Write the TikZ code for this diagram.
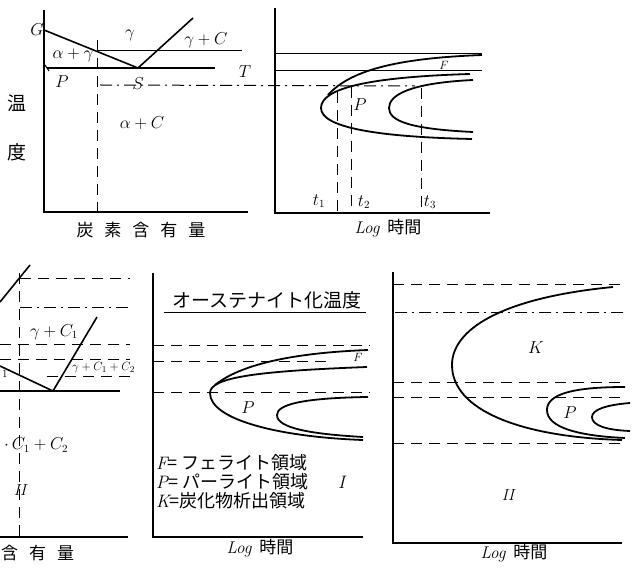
\documentclass[tikz,border=0pt]{standalone}
\usepackage{fontspec}
\newfontfamily\jpfont{Noto Sans CJK JP}
\newcommand{\chargap}{\hspace{11pt}}
\newcommand{\lat}[1]{{\normalfont\itshape #1}}

\begin{document}
\begin{tikzpicture}[x=1pt, y=-1pt,
  axis/.style={line width=1.6pt},
  curve/.style={line width=1.8pt},
  thin/.style={line width=1pt},
  guide/.style={line width=1pt, dash pattern=on 11pt off 7pt},
  chain/.style={line width=1pt, dash pattern=on 12pt off 5pt on 2pt off 5pt},
  lbl/.style={inner sep=0pt, font=\fontsize{16}{18}\selectfont\itshape},
  jp/.style={inner sep=0pt, font=\fontsize{17}{19}\selectfont\jpfont},
  legend/.style={jp, anchor=west, font=\fontsize{18}{20}\selectfont\jpfont}
]
\clip (0,0) rectangle (635,569);
\fill[white] (0,0) rectangle (635,569);

% upper left: phase diagram
\coordinate (G) at (44,30);
\coordinate (S) at (138,68);
\coordinate (P) at (47,68);
\draw[axis] (44,10) -- (44,212) -- (248,212);
\draw[line width=2.6pt] (44,68) -- (44,107);
\draw[axis] (G) -- (S) -- (193,18);
\draw[axis] (P) -- (215,68);
\draw[thin] (45,65) -- (49,71);
\draw[thin] (97,51) -- (242,51);
\draw[guide] (97,40) -- (97,212);
\draw[chain] (100,85) -- (415,86);

\node[lbl] (g) at (37,30) {$G$};
\node[lbl] (gam) at (130,35) {$\gamma$};
\node[lbl] (gamc) at (206,40) {$\gamma+C$};
\node[lbl] (alga) at (73,55) {$\alpha+\gamma$};
\node[lbl] (t) at (245,72) {$T$};
\node[lbl] (p) at (62,82) {$P$};
\node[lbl] (s) at (138,84) {$S$};
\node[lbl] (alc) at (142,123) {$\alpha+C$};
\node[jp, font=\fontsize{19}{21}\selectfont\jpfont] (on) at (17,103) {温};
\node[jp, font=\fontsize{19}{21}\selectfont\jpfont] (do) at (17,152) {度};
\node[jp] (carb) at (141,230) {炭\chargap 素\chargap 含\chargap 有\chargap 量};

% upper right: transformation curves
\draw[axis] (275,8) -- (275,213) -- (490,213);
\draw[thin] (275,54) -- (482,54);
\draw[thin] (275,71) -- (482,71);
\draw[curve] (470,74) .. controls (370,77) and (321,88) .. (321,108)
  .. controls (321,128) and (380,137) .. (472,139);
\draw[curve] (328,95) .. controls (352,68) and (405,58) .. (482,55);
\draw[curve] (473,80) .. controls (410,83) and (389,95) .. (389,108)
  .. controls (389,121) and (410,129) .. (473,132);
\draw[guide] (337,92) -- (337,213);
\draw[guide] (351,87) -- (351,213);
\draw[guide] (421,88) -- (421,213);
\node[lbl, font=\fontsize{12}{14}\selectfont] (f1) at (444,65) {$F$};
\node[lbl] (p1) at (360,105) {$P$};
\node[lbl] (t1) at (319,201) {$t_1$};
\node[lbl] (t2) at (364,202) {$t_2$};
\node[lbl] (t3) at (430,202) {$t_3$};
\node[jp] (time1) at (388,228) {\lat{Log}\hspace{8pt}時間};

% lower left: phase diagram (cut at the edge)
\draw[axis] (0,537) -- (128,537);
\draw[guide] (19,273) -- (19,537);
\draw[guide] (20,279) -- (130,279);
\draw[chain] (20,308) -- (130,308);
\draw[guide] (0,345) -- (130,345);
\draw[guide] (0,360) -- (130,360);
\draw[guide] (47,377) -- (130,377);
\draw[axis] (0,391) -- (120,391);
\draw[axis] (0,366) -- (53,391) -- (97,317);
\draw[axis] (0,302) -- (30,265);
\node[lbl] (gc1) at (54,332) {$\gamma+C_1$};
\node[lbl, anchor=west, font=\fontsize{13}{15}\selectfont] (gc12) at (72,368) {$\gamma+C_1+C_2$};
\node[lbl, anchor=west, font=\fontsize{11}{13}\selectfont] (one) at (2,374) {$1$};
\node[lbl, anchor=west] (ac12) at (4,445) {$\cdot\,C_1+C_2$};
\node[lbl] (two1) at (20,490) {II};
\node[jp, anchor=west] (carb2) at (1,553) {含\chargap 有\chargap 量};

% lower middle: curves after austenitizing
\draw[axis] (153,273) -- (153,537) -- (363,537);
\draw[guide] (153,346) -- (370,346);
\draw[guide] (153,362) -- (330,362);
\draw[guide] (153,393) -- (370,393);
\draw[curve] (367,367) .. controls (260,371) and (210,377) .. (210,393)
  .. controls (210,420) and (280,437) .. (363,440);
\draw[curve] (215,385) .. controls (240,365) and (290,353) .. (368,350);
\draw[curve] (368,397) .. controls (300,398) and (277,405) .. (277,415)
  .. controls (277,428) and (310,434) .. (363,437);
\draw[thin] (164,313) -- (366,313);
\node[lbl, font=\fontsize{12}{14}\selectfont] (f2) at (358,357) {$F$};
\node[lbl] (p2) at (248,408) {$P$};
\node[jp, font=\fontsize{19}{21}\selectfont\jpfont] (aus) at (267,300) {オーステナイト化温度};
\node[legend] (lf) at (156,463) {\lat{F}= フェライト領域};
\node[legend] (lp) at (156,482) {\lat{P}= パーライト領域\hspace{30pt}\lat{I}};
\node[legend] (lk) at (156,501) {\lat{K}=炭化物析出領域};
\node[jp] (time2) at (260,548) {\lat{Log}\hspace{8pt}時間};

% lower right: curves with carbide region
\draw[axis] (393,272) -- (393,543) -- (622,543);
\draw[guide] (393,285) -- (625,285);
\draw[chain] (395,313) -- (625,313);
\draw[guide] (393,383) -- (625,383);
\draw[guide] (393,398) -- (625,398);
\draw[guide] (393,443) -- (625,443);
\draw[curve] (613,287) .. controls (500,298) and (452,330) .. (452,365)
  .. controls (452,410) and (520,437) .. (622,440);
\draw[curve] (625,387) .. controls (570,387) and (547,395) .. (547,410)
  .. controls (547,428) and (580,436) .. (625,438);
\draw[curve] (630,403) .. controls (605,405) and (592,410) .. (592,417)
  .. controls (592,425) and (605,430) .. (630,431);
\node[lbl] (k3) at (536,348) {$K$};
\node[lbl] (p3) at (570,413) {$P$};
\node[lbl] (two3) at (508,495) {II};
\node[jp] (time3) at (514,553) {\lat{Log}\hspace{8pt}時間};
\end{tikzpicture}
\end{document}
